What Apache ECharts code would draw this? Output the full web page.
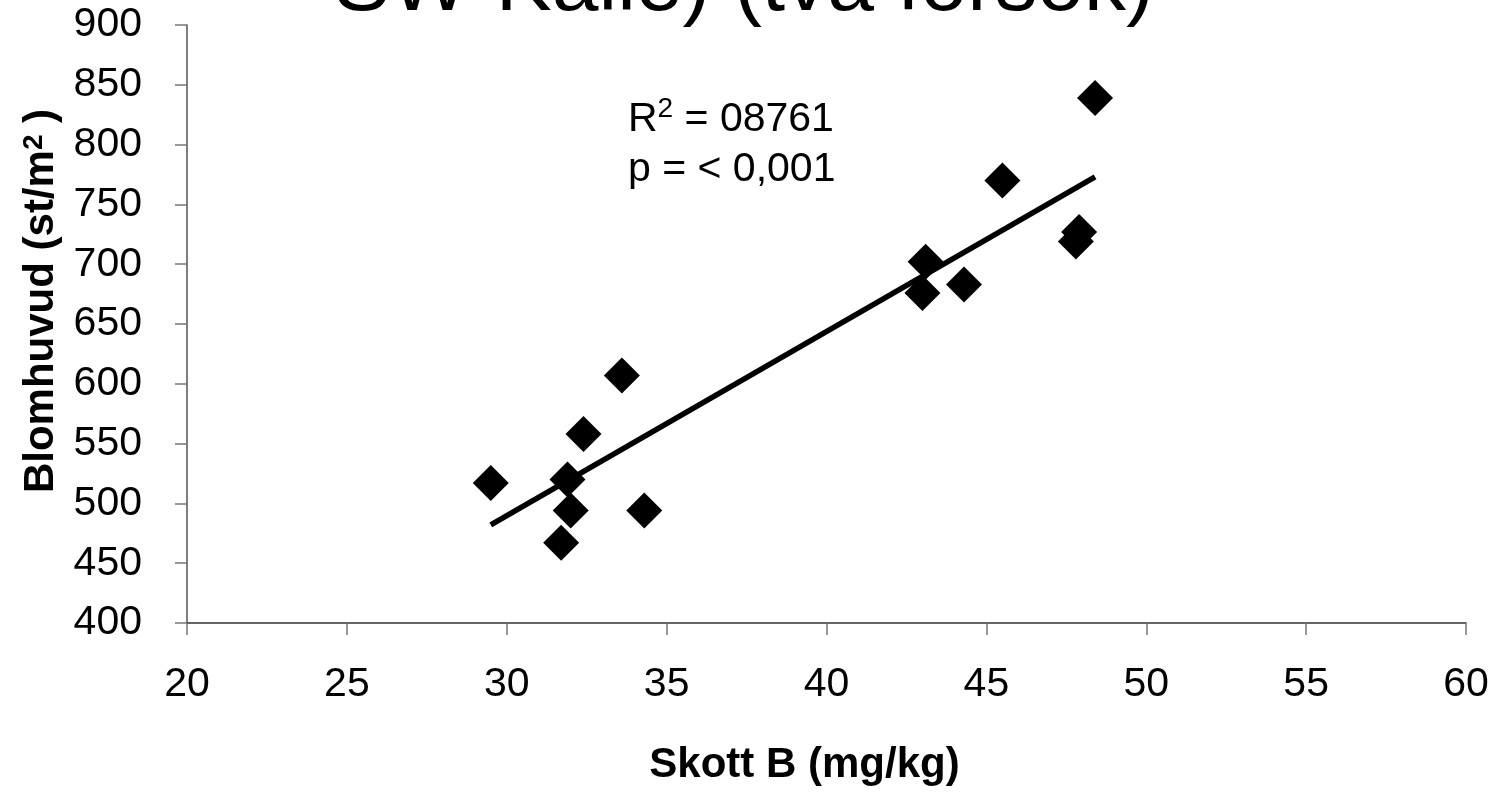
<!DOCTYPE html>
<html>
<head>
<meta charset="utf-8">
<script src="https://cdn.jsdelivr.net/npm/echarts@6/dist/echarts.min.js"></script>
<style>
html,body{margin:0;padding:0;background:#fff;}
#c{width:1488px;height:797px;}
</style>
</head>
<body>
<div id="c"></div>
<script>
// Scatter points: [Skott B (mg/kg), Blomhuvud (st/m2)]
const skottB = [29.5, 31.9, 32.0, 31.7, 32.4, 33.6, 34.3, 43.0, 43.1, 44.3, 45.5, 47.8, 47.9, 48.4];
const blomhuvud = [517, 520, 494, 467, 558, 607, 494, 676, 702, 683, 770, 719, 727, 839];
// Trend line end points
const trendX = [29.5, 48.4];
const trendY = [482, 773];
const titleText = 'SW-Kalle) (två försök)';
const xAxisTitle = 'Skott B (mg/kg)';
const yAxisTitle = 'Blomhuvud (st/m{sup|2} )';
const annotationLines = ['R{sup|2} = 08761', 'p = < 0,001'];

const points = skottB.map((x, i) => [x, blomhuvud[i]]);
const trend = trendX.map((x, i) => [x, trendY[i]]);
const FONT = '"Liberation Sans", Arial, sans-serif';

const chart = echarts.init(document.getElementById('c'));
chart.setOption({
  backgroundColor: '#fff',
  animation: false,
  title: {
    text: titleText,
    left: 'center',
    top: -60,
    textStyle: { fontFamily: FONT, fontSize: 84, fontWeight: 'normal', color: '#000' }
  },
  grid: { left: 187, right: 22, top: 25, bottom: 174, containLabel: false, outerBoundsMode: 'none' },
  xAxis: {
    type: 'value',
    min: 20, max: 60, interval: 5,
    name: xAxisTitle,
    nameLocation: 'middle',
    nameGap: 121,
    nameTextStyle: { fontFamily: FONT, fontSize: 42, fontWeight: 'bold', color: '#000', padding: [0, 44, 0, 0] },
    axisLine: { show: true, onZero: false, lineStyle: { color: '#333', width: 1.5 } },
    axisTick: { show: true, length: 12, lineStyle: { color: '#777', width: 1.5 } },
    axisLabel: { margin: 41, fontFamily: FONT, fontSize: 41, color: '#000' },
    splitLine: { show: false }
  },
  yAxis: {
    type: 'value',
    min: 400, max: 900, interval: 50,
    name: yAxisTitle,
    nameLocation: 'middle',
    nameGap: 122,
    nameRotate: 90,
    nameTextStyle: {
      fontFamily: FONT, fontSize: 42, fontWeight: 'bold', color: '#000',
      padding: [0, 0, 0, 46],
      rich: { sup: { fontFamily: FONT, fontSize: 28, fontWeight: 'bold', color: '#000', verticalAlign: 'top', padding: [0, 0, 14, 0] } }
    },
    axisLine: { show: true, lineStyle: { color: '#555', width: 1.5 } },
    axisTick: { show: true, length: 12, lineStyle: { color: '#777', width: 1.5 } },
    axisLabel: { margin: 45, fontFamily: FONT, fontSize: 41, color: '#000' },
    splitLine: { show: false }
  },
  graphic: [{
    type: 'text',
    left: 733 - 105,
    top: 95,
    style: {
      text: annotationLines.join('\n'),
      fontFamily: FONT, fontSize: 41, lineHeight: 50, fill: '#000', align: 'center',
      width: 210,
      rich: { sup: { fontFamily: FONT, fontSize: 28, fill: '#000', verticalAlign: 'top', padding: [0, 0, 14, 0] } }
    }
  }],
  series: [
    {
      type: 'line',
      data: trend,
      showSymbol: false,
      symbol: 'none',
      lineStyle: { color: '#000', width: 5.5 },
      z: 2
    },
    {
      type: 'scatter',
      data: points,
      symbol: 'diamond',
      symbolSize: 36,
      itemStyle: { color: '#000', opacity: 1 },
      z: 3
    }
  ]
});
</script>
</body>
</html>
